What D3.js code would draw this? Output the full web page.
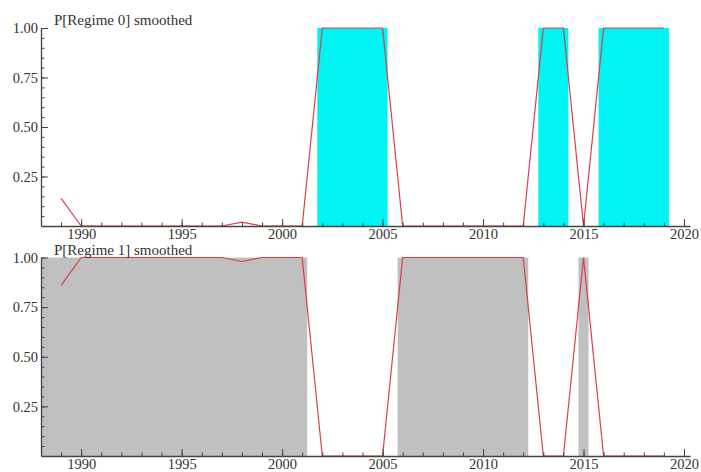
<!DOCTYPE html>
<html>
<head>
<meta charset="utf-8">
<script src="https://cdn.jsdelivr.net/npm/d3@7"></script>
<style>
  body { margin: 0; background: #fff; }
</style>
</head>
<body>
<div class="graph"></div>
<script>
// annual smoothed regime probabilities
const years = [1989, 1990, 1991, 1992, 1993, 1994, 1995, 1996, 1997, 1998,
  1999, 2000, 2001, 2002, 2003, 2004, 2005, 2006, 2007, 2008,
  2009, 2010, 2011, 2012, 2013, 2014, 2015, 2016, 2017, 2018, 2019];
const regime0 = [0.14, 0, 0, 0, 0, 0, 0, 0, 0, 0.02,
  0, 0, 0, 1, 1, 1, 1, 0, 0, 0,
  0, 0, 0, 0, 1, 1, 0, 1, 1, 1, 1];
const regime1 = [0.86, 1, 1, 1, 1, 1, 1, 1, 1, 0.98,
  1, 1, 1, 0, 0, 0, 0, 1, 1, 1,
  1, 1, 1, 1, 0, 0, 1, 0, 0, 0, 0];

// shaded periods (start, end) for each regime
const bands0 = [[2001.75, 2005.25], [2012.75, 2014.25], [2015.75, 2019.25]];
const bands1 = [[1988, 2001.25], [2005.75, 2012.25], [2014.75, 2015.25]];

const yTicks = [0.25, 0.5, 0.75, 1.0];
const yMinor = d3.range(1, 21).map(i => i / 20);
const xTicks = [1990, 1995, 2000, 2005, 2010, 2015, 2020];
const xMinor = d3.range(1989, 2021);

const serif = "'Liberation Serif', 'Times New Roman', 'DejaVu Serif', serif";

const svg = d3.select(".graph").append("svg").attr("width", 701).attr("height", 472);

const x = d3.scaleLinear().domain([1988, 2020.3]).range([41, 690]);

function drawPanel(title, values, bands, fill, top, bottom) {
  const y = d3.scaleLinear().domain([0, 1]).range([bottom, top]);
  const g = svg.append("g");

  g.selectAll("rect.band")
    .data(bands)
    .enter().append("rect")
    .attr("class", "band")
    .attr("x", d => x(d[0]))
    .attr("width", d => x(d[1]) - x(d[0]))
    .attr("y", y(1))
    .attr("height", y(0) - y(1))
    .attr("fill", fill);

  const line = d3.line()
    .x((d, i) => x(years[i]))
    .y(d => y(d));

  g.append("path")
    .attr("d", line(values))
    .attr("fill", "none")
    .attr("stroke", "#dc3c48")
    .attr("stroke-width", 1.2);

  // minor ticks
  g.append("g")
    .attr("transform", "translate(41,0)")
    .call(d3.axisLeft(y).tickValues(yMinor).tickSize(-3.5).tickFormat(""))
    .call(a => a.select(".domain").remove());
  g.append("g")
    .attr("transform", "translate(0," + bottom + ")")
    .call(d3.axisBottom(x).tickValues(xMinor).tickSize(-3.5).tickFormat(""))
    .call(a => a.select(".domain").remove());

  // major axes
  g.append("g")
    .attr("class", "axis")
    .attr("transform", "translate(41,0)")
    .call(d3.axisLeft(y).tickValues(yTicks).tickSize(-7).tickSizeOuter(0)
      .tickPadding(3).tickFormat(d3.format(".2f")));
  g.append("g")
    .attr("class", "axis")
    .attr("transform", "translate(0," + bottom + ")")
    .call(d3.axisBottom(x).tickValues(xTicks).tickSize(-7).tickSizeOuter(0)
      .tickPadding(3).tickFormat(d3.format("d")));

  g.selectAll(".tick line").attr("stroke", "#444");
  g.selectAll(".domain").attr("stroke", "#444").attr("stroke-width", 1.3);
  g.selectAll(".tick text")
    .attr("font-family", serif)
    .attr("font-size", 14.5)
    .attr("fill", "#333");

  g.append("text")
    .attr("x", 54)
    .attr("y", top - 3)
    .attr("font-family", serif)
    .attr("font-size", 15)
    .attr("fill", "#333")
    .text(title);
}

drawPanel("P[Regime 0] smoothed", regime0, bands0, "#00f4f4", 28, 226);
drawPanel("P[Regime 1] smoothed", regime1, bands1, "#c0c0c0", 257.5, 456);
</script>
</body>
</html>
